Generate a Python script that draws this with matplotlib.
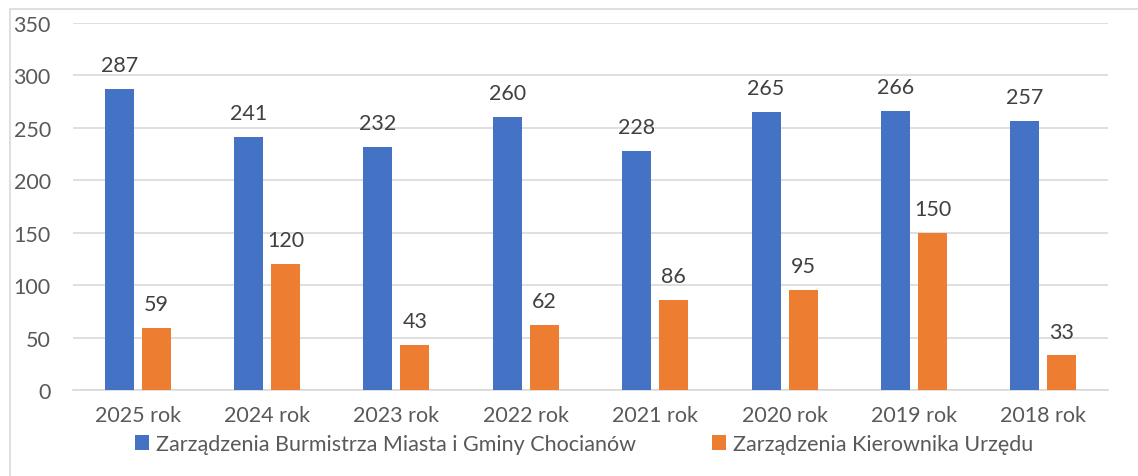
import matplotlib
matplotlib.use("Agg")
import matplotlib.pyplot as plt
import numpy as np
from matplotlib.patches import Rectangle

categories = ["2025 rok", "2024 rok", "2023 rok", "2022 rok", "2021 rok", "2020 rok", "2019 rok", "2018 rok"]
burmistrz = [287, 241, 232, 260, 228, 265, 266, 257]
kierownik = [59, 120, 43, 62, 86, 95, 150, 33]
series_names = ["Zarządzenia Burmistrza Miasta i Gminy Chocianów", "Zarządzenia Kierownika Urzędu"]
yticks = [0, 50, 100, 150, 200, 250, 300, 350]

plt.rcParams['font.family'] = ['Lato', 'DejaVu Sans']

W, H = 1138, 477
FS = 15.5
fig = plt.figure(figsize=(W / 100, H / 100), dpi=100)
fig.patches.append(Rectangle((10 / W, -0.1), 1.2, 1.1 - 10 / H, transform=fig.transFigure,
                             fill=False, edgecolor="#d9d9d9", linewidth=1.2))
ax = fig.add_axes([73 / W, 1 - 391 / H, (1108 - 73) / W, (391 - 24) / H])

x = np.arange(len(categories))
bw = 0.224
off = 0.143
blue = "#4472c4"
orange = "#ed7d31"
b1 = ax.bar(x - off, burmistrz, bw, color=blue, label=series_names[0], zorder=3)
b2 = ax.bar(x + off, kierownik, bw, color=orange, label=series_names[1], zorder=3)
for bars, vals in ((b1, burmistrz), (b2, kierownik)):
    for r, v in zip(bars, vals):
        ax.annotate(str(v), (r.get_x() + r.get_width() / 2, v), xytext=(0, 10),
                    textcoords="offset points", ha="center", va="bottom",
                    fontsize=FS, color="#404040")

ax.set_xlim(-0.5, len(categories) - 0.5)
ax.set_ylim(0, 350)
ax.set_yticks(yticks)
ax.set_yticklabels([str(t) for t in yticks])
ax.set_xticks(x)
ax.set_xticklabels(categories)
ax.tick_params(axis="both", length=0, labelsize=FS, labelcolor="#595959")
ax.tick_params(axis="y", pad=16)
ax.tick_params(axis="x", pad=11)
ax.grid(axis="y", color="#d9d9d9", linewidth=1.2, zorder=0)
for s in ["top", "right", "left"]:
    ax.spines[s].set_visible(False)
ax.spines["bottom"].set_color("#d9d9d9")
ax.spines["bottom"].set_linewidth(1.2)

leg = fig.legend(handles=[b1, b2], loc="center", bbox_to_anchor=(584 / W, 1 - 445 / H),
                 ncol=2, frameon=False, fontsize=FS, handlelength=0.65, handleheight=0.65,
                 handletextpad=0.35, columnspacing=3.5, labelcolor="#595959",
                 borderpad=0, borderaxespad=0)

fig.savefig("out.png", dpi=100)
